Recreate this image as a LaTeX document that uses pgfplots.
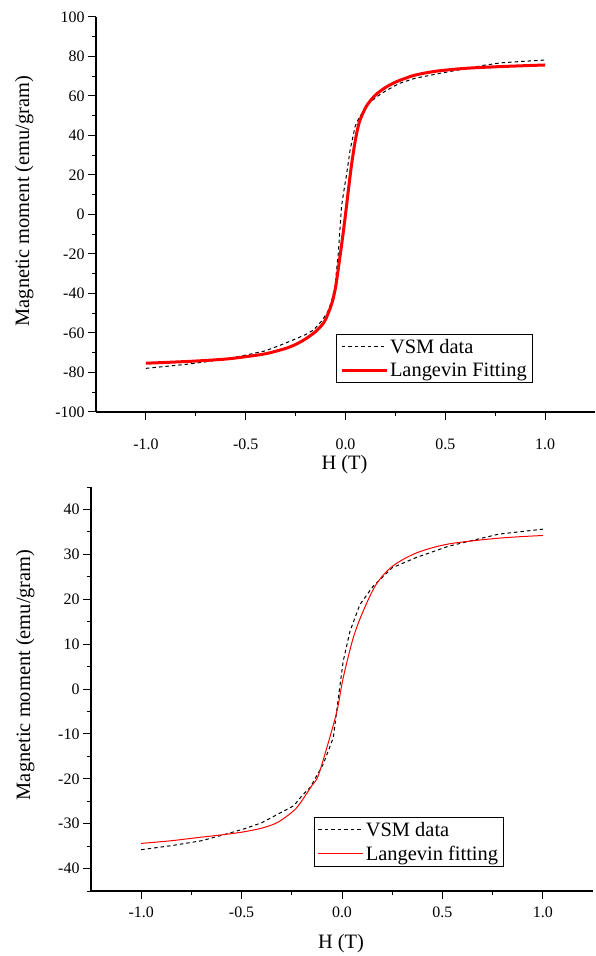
\documentclass[border=0pt]{standalone}
\usepackage{fontspec}
\setmainfont{Liberation Serif}
\usepackage{pgfplots}
\pgfplotsset{compat=1.18}

\pgfplotsset{
  vsmaxis/.style={
    scale only axis,
    axis lines=left,
    axis line style={-, line width=1.2bp},
    tick align=outside,
    major tick length=8bp,
    minor tick length=4bp,
    tick style={black, line width=1bp},
    xmin=-1.25, xmax=1.25,
    xtick={-1,-0.5,0,0.5,1},
    minor x tick num=1,
    minor y tick num=1,
    /pgf/number format/assume math mode=true,
    xticklabel style={/pgf/number format/fixed, /pgf/number format/fixed zerofill,
      /pgf/number format/precision=1},
    ticklabel style={font=\fontsize{16}{18}\selectfont},
    label style={font=\fontsize{20.5}{24}\selectfont},
    legend cell align=left,
    legend style={draw=black, line width=1bp, font=\fontsize{20.5}{23}\selectfont,
      inner xsep=3.5bp, inner ysep=3bp, row sep=4bp, anchor=south west},
    legend image code/.code={\draw[##1] (0bp,0bp) -- (45bp,0bp);},
  },
  vsm/.style={black, line width=1bp, dash pattern=on 3.5bp off 3bp},
}

\begin{document}
\begin{tikzpicture}
\path[use as bounding box] (0,0) rectangle (596bp,956bp);

% top panel
\begin{axis}[vsmaxis,
  at={(96bp,544bp)}, anchor=south west,
  width=499bp, height=395bp,
  ymin=-100, ymax=100, ytick={-100,-80,...,100},
  xticklabel style={yshift=-15bp},
  xlabel={H (T)},
  ylabel={Magnetic moment (emu/gram)},
  xlabel style={at={(axis description cs:0.498,-0.133)}, anchor=center},
  ylabel style={at={(axis description cs:-0.144,0.534)}, anchor=center},
  legend style={at={(axis description cs:0.481,0.073)}},
]
\addplot[vsm] coordinates {
(-1.0,-77.9) (-0.9,-76.9) (-0.8,-75.9) (-0.7,-74.6) (-0.6,-73.1) (-0.5,-71.2)
(-0.4,-69.0) (-0.33,-66.3) (-0.25,-63.0) (-0.2,-60.8) (-0.16,-58.5) (-0.12,-54.0)
(-0.09,-49.5) (-0.07,-44.0) (-0.053,-36.5) (-0.036,-19.6) (-0.02,4.0) (-0.005,14.0)
(0.005,20.0) (0.023,32.7) (0.048,44.5) (0.07,49.5) (0.09,52.0) (0.12,56.5)
(0.156,59.6) (0.2,62.5) (0.27,66.4) (0.35,69.0) (0.49,71.8) (0.6,73.8)
(0.69,75.5) (0.78,76.8) (0.9,77.6) (1.0,78.2)
};
\addlegendentry{VSM data}
\addplot[red, line width=3bp, smooth] coordinates {
(-1.0,-75.3) (-0.9,-74.9) (-0.75,-74.2) (-0.6,-73.2) (-0.5,-72.0) (-0.4,-70.5)
(-0.33,-68.7) (-0.29,-67.5) (-0.25,-65.8) (-0.2,-63.0) (-0.15,-59.3) (-0.12,-56.2)
(-0.1,-53.2) (-0.07,-45.5) (-0.05,-37.0) (-0.03,-23.0) (-0.015,-12.0) (0,0)
(0.014,12.0) (0.03,25.0) (0.05,38.0) (0.07,47.0) (0.1,54.0) (0.12,57.0)
(0.15,60.5) (0.2,64.3) (0.25,67.0) (0.29,68.6) (0.35,70.6) (0.45,72.5)
(0.6,74.0) (0.78,74.9) (1.0,75.7)
};
\addlegendentry{Langevin Fitting}
\end{axis}

% bottom panel
\begin{axis}[vsmaxis,
  at={(91bp,65bp)}, anchor=south west,
  width=502bp, height=404bp,
  ymin=-45, ymax=45, ytick={-40,-30,...,40},
  extra y ticks={-45,45}, extra y tick labels={},
  extra y tick style={major tick length=4bp},
  xticklabel style={yshift=-4bp},
  xlabel={H (T)},
  ylabel={Magnetic moment (emu/gram)},
  xlabel style={at={(axis description cs:0.498,-0.131)}, anchor=center},
  ylabel style={at={(axis description cs:-0.131,0.535)}, anchor=center},
  legend style={at={(axis description cs:0.444,0.059)}},
]
\addplot[vsm] coordinates {
(-1.0,-35.8) (-0.85,-34.9) (-0.7,-33.8) (-0.6,-32.6) (-0.49,-31.2) (-0.4,-29.8)
(-0.32,-27.9) (-0.24,-26.0) (-0.2,-23.8) (-0.158,-21.9) (-0.093,-16.7) (-0.043,-10.8)
(-0.018,-1.9) (0.006,6.2) (0.04,12.9) (0.089,18.8) (0.155,22.9) (0.25,27.0)
(0.37,29.3) (0.53,31.8) (0.78,34.5) (1.0,35.6)
};
\addlegendentry{VSM data}
\addplot[red, line width=1bp, smooth] coordinates {
(-1.0,-34.4) (-0.85,-33.8) (-0.7,-33.0) (-0.6,-32.5) (-0.5,-31.9) (-0.4,-31.0)
(-0.32,-29.7) (-0.24,-27.1) (-0.2,-24.9) (-0.15,-21.5) (-0.12,-19.5) (-0.075,-13.0)
(-0.025,-4.9) (0.006,2.5) (0.056,11.4) (0.105,17.3) (0.17,23.3) (0.25,27.3)
(0.37,30.3) (0.53,32.3) (0.78,33.6) (1.0,34.2)
};
\addlegendentry{Langevin fitting}
\end{axis}
\end{tikzpicture}
\end{document}
